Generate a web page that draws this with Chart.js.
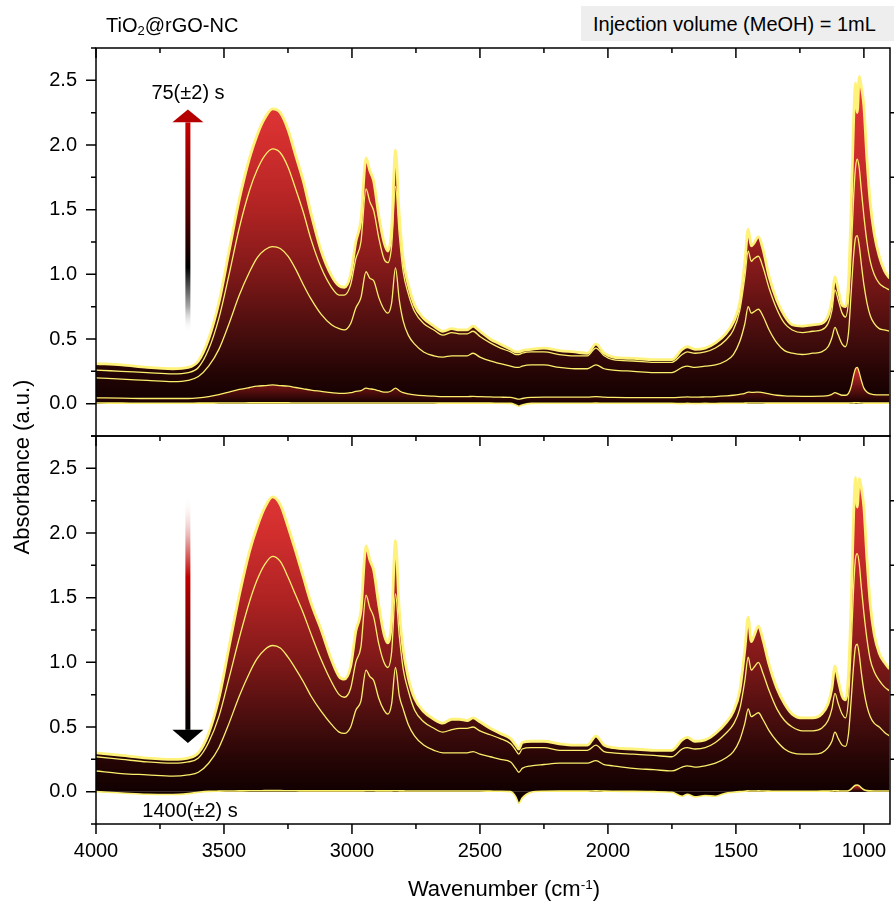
<!DOCTYPE html>
<html>
<head>
<meta charset="utf-8">
<script src="https://cdn.jsdelivr.net/npm/chart.js@4.4.1/dist/chart.umd.min.js"></script>
<style>
  html, body { margin: 0; padding: 0; background: #fff; }
  #wrap { position: relative; width: 894px; height: 905px; overflow: hidden; background: #fff;
          font-family: 'Liberation Sans', Arial, sans-serif; color: #000; }
  canvas { position: absolute; left: 0; }
  .txt { position: absolute; white-space: nowrap; font-size: 20px; line-height: 24px; z-index: 5; }
  sub { font-size: 0.65em; vertical-align: -0.25em; line-height: 0; }
  sup { font-size: 0.62em; vertical-align: 0.55em; line-height: 0; }
</style>
</head>
<body>
<div id="wrap">
  <canvas id="cTop" width="894" height="460" style="top:0px"></canvas>
  <canvas id="cBot" width="894" height="505" style="top:400px"></canvas>
  <div class="txt" style="left:106px; top:13px;">TiO<sub>2</sub>@rGO-NC</div>
  <div class="txt" style="left:581px; top:6px; width:313px; height:35px; line-height:37px; background:#eeeeee; padding-left:12px; box-sizing:border-box;">Injection volume (MeOH) = 1mL</div>
  <div class="txt" style="left:128px; top:80px; width:120px; text-align:center;">75(±2) s</div>
  <div class="txt" style="left:130px; top:798px; width:120px; text-align:center;">1400(±2) s</div>
  <div class="txt" style="left:354px; top:876px; width:300px; text-align:center; font-size:22px; line-height:26px;">Wavenumber (cm<sup>-1</sup>)</div>
  <div class="txt" style="left:-128px; top:454px; width:300px; text-align:center; font-size:22px; line-height:26px; transform:rotate(-90deg); transform-origin:150px 13px;">Absorbance (a.u.)</div>
</div>
<script>
// ---------------- data ----------------
const wavenumber = [4000,3900,3800,3700,3640,3600,3560,3520,3480,3440,
  3400,3370,3340,3310,3280,3250,3220,3190,3160,3120,
  3080,3050,3030,3005,2985,2965,2945,2930,2915,2895,
  2875,2860,2845,2830,2815,2800,2780,2755,2720,2680,
  2645,2610,2580,2550,2527,2500,2460,2420,2380,2360,
  2348,2335,2300,2250,2190,2130,2080,2047,2015,1980,
  1900,1820,1750,1710,1690,1660,1620,1580,1540,1510,
  1485,1465,1452,1440,1430,1412,1395,1370,1340,1310,
  1280,1240,1200,1165,1140,1125,1113,1100,1085,1072,
  1060,1050,1040,1033,1026,1018,1010,1000,988,975,
  960,940,920,900];

// top panel (adsorption, up to 75 s)
const top75s = [0.31,0.30,0.28,0.27,0.28,0.33,0.50,0.78,1.18,1.58,
  1.90,2.08,2.21,2.28,2.25,2.12,1.92,1.72,1.47,1.18,
  0.99,0.91,0.90,1.00,1.25,1.42,1.90,1.80,1.72,1.45,
  1.25,1.18,1.35,1.96,1.45,1.12,0.92,0.76,0.66,0.60,
  0.56,0.58,0.57,0.57,0.60,0.56,0.50,0.46,0.42,0.40,
  0.40,0.41,0.42,0.43,0.41,0.40,0.39,0.46,0.39,0.36,
  0.35,0.34,0.34,0.42,0.44,0.42,0.43,0.47,0.54,0.63,
  0.78,1.10,1.35,1.22,1.24,1.29,1.20,0.98,0.80,0.68,
  0.61,0.60,0.61,0.62,0.68,0.80,0.98,0.88,0.76,0.75,
  0.95,1.50,2.20,2.48,2.25,2.53,2.45,2.30,1.89,1.55,
  1.32,1.14,1.03,0.97];
const topMid2 = [0.26,0.25,0.24,0.23,0.24,0.28,0.42,0.66,1.00,1.36,
  1.65,1.81,1.92,1.97,1.94,1.83,1.66,1.48,1.27,1.05,
  0.90,0.84,0.84,0.92,1.12,1.25,1.66,1.56,1.49,1.28,
  1.12,1.09,1.22,1.68,1.30,1.02,0.85,0.71,0.62,0.57,
  0.53,0.55,0.54,0.54,0.56,0.52,0.47,0.43,0.40,0.38,
  0.38,0.39,0.40,0.40,0.38,0.37,0.37,0.43,0.37,0.34,
  0.33,0.32,0.32,0.38,0.40,0.39,0.40,0.43,0.49,0.57,
  0.72,0.98,1.18,1.10,1.12,1.14,1.06,0.89,0.73,0.62,
  0.57,0.55,0.56,0.57,0.62,0.72,0.88,0.80,0.70,0.67,
  0.80,1.15,1.60,1.82,1.89,1.82,1.65,1.45,1.25,1.10,
  1.00,0.93,0.90,0.88];
const topMid1 = [0.20,0.19,0.18,0.17,0.18,0.21,0.29,0.42,0.62,0.84,
  1.02,1.13,1.19,1.215,1.20,1.14,1.04,0.92,0.81,0.69,
  0.61,0.58,0.57,0.62,0.74,0.82,1.02,0.97,0.95,0.82,
  0.73,0.70,0.78,1.05,0.80,0.64,0.53,0.46,0.40,0.37,
  0.36,0.37,0.37,0.37,0.39,0.36,0.33,0.31,0.29,0.28,
  0.28,0.29,0.30,0.30,0.28,0.27,0.27,0.30,0.27,0.26,
  0.25,0.24,0.24,0.28,0.29,0.28,0.29,0.30,0.33,0.38,
  0.48,0.62,0.75,0.70,0.71,0.73,0.68,0.57,0.47,0.41,
  0.39,0.38,0.39,0.40,0.44,0.51,0.59,0.53,0.46,0.44,
  0.55,0.85,1.15,1.28,1.30,1.22,1.08,0.92,0.78,0.68,
  0.62,0.58,0.57,0.56];
const topEarly = [0.045,0.043,0.040,0.040,0.040,0.045,0.055,0.070,0.090,0.110,
  0.125,0.135,0.140,0.145,0.140,0.135,0.125,0.115,0.105,0.095,
  0.085,0.080,0.080,0.085,0.095,0.100,0.120,0.115,0.110,0.100,
  0.090,0.090,0.100,0.120,0.100,0.085,0.075,0.068,0.062,0.058,
  0.055,0.055,0.055,0.055,0.056,0.054,0.052,0.050,0.048,0.040,
  0.035,0.040,0.048,0.050,0.050,0.050,0.050,0.055,0.050,0.048,
  0.047,0.046,0.046,0.050,0.052,0.050,0.052,0.055,0.060,0.065,
  0.072,0.080,0.090,0.088,0.088,0.090,0.085,0.075,0.065,0.060,
  0.058,0.057,0.057,0.058,0.062,0.072,0.085,0.075,0.065,0.065,
  0.080,0.130,0.220,0.270,0.280,0.240,0.180,0.120,0.090,0.075,
  0.070,0.068,0.068,0.068];
const topStart = [0.005,0.004,0.003,0.003,0.003,0.004,0.004,0.005,0.005,0.005,
  0.006,0.006,0.006,0.006,0.006,0.006,0.005,0.005,0.005,0.005,
  0.005,0.005,0.005,0.005,0.005,0.005,0.005,0.005,0.005,0.005,
  0.005,0.005,0.005,0.005,0.005,0.005,0.005,0.005,0.005,0.005,
  0.004,0.004,0.004,0.004,0.004,0.004,0.004,0.003,0.002,-0.010,
  -0.020,-0.010,0.002,0.003,0.003,0.003,0.003,0.004,0.003,0.003,
  0.003,0.003,0.003,0.000,0.002,0.000,0.002,0.001,0.003,0.003,
  0.003,0.004,0.005,0.005,0.005,0.005,0.005,0.004,0.004,0.004,
  0.004,0.004,0.004,0.004,0.004,0.004,0.004,0.004,0.004,0.004,
  0.004,0.005,0.006,0.007,0.007,0.006,0.005,0.004,0.004,0.004,
  0.004,0.004,0.004,0.004];

// bottom panel (desorption, down to 1400 s)
const botMax = [0.30,0.28,0.26,0.25,0.26,0.30,0.45,0.72,1.12,1.52,
  1.86,2.05,2.20,2.28,2.22,2.05,1.86,1.66,1.46,1.25,
  1.02,0.89,0.87,0.97,1.24,1.40,1.90,1.79,1.71,1.44,
  1.22,1.15,1.32,1.94,1.40,1.10,0.88,0.72,0.62,0.56,
  0.53,0.56,0.56,0.55,0.57,0.54,0.49,0.45,0.41,0.36,
  0.33,0.38,0.39,0.39,0.37,0.36,0.36,0.43,0.36,0.34,
  0.33,0.32,0.32,0.40,0.42,0.39,0.40,0.45,0.53,0.62,
  0.78,1.10,1.35,1.16,1.20,1.28,1.18,0.98,0.80,0.68,
  0.60,0.57,0.57,0.60,0.68,0.80,0.97,0.86,0.74,0.71,
  0.92,1.45,2.15,2.43,2.20,2.42,2.35,2.20,1.80,1.45,
  1.22,1.07,1.00,0.95];
const botMid2 = [0.27,0.25,0.23,0.22,0.23,0.26,0.38,0.58,0.88,1.19,
  1.47,1.64,1.76,1.82,1.78,1.66,1.52,1.38,1.22,1.02,
  0.85,0.75,0.73,0.80,1.00,1.12,1.52,1.42,1.35,1.14,
  1.00,0.96,1.08,1.53,1.20,0.95,0.78,0.63,0.54,0.49,
  0.46,0.48,0.49,0.49,0.50,0.47,0.44,0.41,0.37,0.32,
  0.29,0.33,0.34,0.34,0.32,0.32,0.32,0.36,0.31,0.30,
  0.29,0.28,0.27,0.33,0.34,0.33,0.34,0.38,0.45,0.52,
  0.64,0.86,1.04,0.94,0.96,1.00,0.92,0.78,0.64,0.55,
  0.50,0.47,0.47,0.49,0.55,0.64,0.76,0.68,0.60,0.57,
  0.72,1.10,1.58,1.80,1.84,1.76,1.58,1.38,1.18,1.02,
  0.93,0.86,0.81,0.78];
const botMid1 = [0.16,0.14,0.13,0.12,0.13,0.15,0.22,0.34,0.53,0.74,
  0.92,1.03,1.10,1.13,1.11,1.04,0.95,0.85,0.74,0.62,
  0.52,0.46,0.45,0.50,0.63,0.70,0.94,0.89,0.86,0.72,
  0.63,0.60,0.68,0.96,0.74,0.64,0.52,0.43,0.36,0.32,
  0.30,0.30,0.30,0.30,0.31,0.29,0.27,0.25,0.23,0.18,
  0.15,0.18,0.20,0.21,0.22,0.22,0.22,0.24,0.21,0.20,
  0.18,0.17,0.16,0.19,0.20,0.19,0.20,0.22,0.26,0.31,
  0.40,0.53,0.64,0.58,0.59,0.61,0.56,0.47,0.39,0.33,
  0.30,0.29,0.29,0.30,0.34,0.39,0.46,0.41,0.36,0.35,
  0.45,0.70,0.98,1.12,1.14,1.06,0.92,0.78,0.66,0.58,
  0.53,0.50,0.46,0.43];
const bot1400s = [0.000,-0.010,-0.020,-0.022,-0.015,-0.005,0.002,0.004,0.005,0.006,
  0.007,0.007,0.008,0.008,0.008,0.007,0.007,0.006,0.006,0.006,
  0.006,0.006,0.006,0.006,0.006,0.006,0.007,0.007,0.007,0.006,
  0.006,0.006,0.006,0.007,0.006,0.006,0.005,0.005,0.005,0.005,
  0.005,0.005,0.005,0.005,0.005,0.005,0.004,0.003,0.000,-0.040,
  -0.090,-0.050,-0.005,0.003,0.004,0.004,0.004,0.006,0.004,0.003,
  0.002,0.000,-0.005,-0.035,-0.020,-0.040,-0.030,-0.035,-0.012,-0.005,
  0.000,0.003,0.006,0.005,0.005,0.006,0.005,0.004,0.003,0.003,
  0.003,0.003,0.003,0.004,0.004,0.005,0.007,0.006,0.005,0.005,
  0.008,0.020,0.040,0.050,0.052,0.045,0.030,0.015,0.008,0.006,
  0.005,0.005,0.005,0.005];

const xMajorTicks = [4000, 3500, 3000, 2500, 2000, 1500, 1000];
const yMajorTicks = [0, 0.5, 1.0, 1.5, 2.0, 2.5];
const X_MIN = 898, X_MAX = 4000, Y_MIN = -0.25, Y_MAX = 2.75;

// ---------------- helpers ----------------
Chart.defaults.font.family = "'Liberation Sans', Arial, sans-serif";
Chart.defaults.font.size = 20;
Chart.defaults.color = '#000';

const pts = arr => wavenumber.map((w, i) => ({ x: w, y: arr[i] }));

function absGradient(ctx) {
  const chart = ctx.chart;
  const { chartArea, scales } = chart;
  if (!chartArea) return 'rgba(0,0,0,0)';
  const y0 = scales.y.getPixelForValue(0), y1 = scales.y.getPixelForValue(2.5);
  const g = chart.ctx.createLinearGradient(0, y0, 0, y1);
  g.addColorStop(0.00, '#110000');
  g.addColorStop(0.10, '#260505');
  g.addColorStop(0.20, '#420c0c');
  g.addColorStop(0.40, '#7e1818');
  g.addColorStop(0.60, '#b02323');
  g.addColorStop(0.80, '#d22e2e');
  g.addColorStop(1.00, '#e63a3a');
  return g;
}
function relGradient(maxVal) {
  return function (ctx) {
    const chart = ctx.chart;
    const { chartArea, scales } = chart;
    if (!chartArea) return 'rgba(0,0,0,0)';
    const y0 = scales.y.getPixelForValue(0), y1 = scales.y.getPixelForValue(maxVal);
    const g = chart.ctx.createLinearGradient(0, y0, 0, y1);
    g.addColorStop(0, '#120000');
    g.addColorStop(0.45, '#6a1212');
    g.addColorStop(1, '#d83232');
    return g;
  };
}

const YELLOW = '#fbef6c';
function spectrum(arr, opt) {
  return Object.assign({
    data: pts(arr), borderColor: YELLOW, borderWidth: 1.3, pointRadius: 0, fill: false,
    cubicInterpolationMode: 'monotone', tension: 0.4
  }, opt);
}

const frameTicks = {
  id: 'frameTicks',
  afterDraw(chart, args, o) {
    const { ctx, chartArea: a, scales: { x, y } } = chart;
    ctx.save();
    if (o.arrow) {
      const ar = o.arrow;
      const px = x.getPixelForValue(ar.wn);
      const pTail = y.getPixelForValue(ar.tail), pBase = y.getPixelForValue(ar.base), pTip = y.getPixelForValue(ar.tip);
      const g = ctx.createLinearGradient(0, pTail, 0, pBase);
      ar.stops.forEach(s => g.addColorStop(s[0], s[1]));
      ctx.fillStyle = g;
      ctx.fillRect(px - 2.5, Math.min(pTail, pBase), 5, Math.abs(pBase - pTail));
      ctx.fillStyle = ar.head;
      ctx.beginPath();
      ctx.moveTo(px - 15.5, pBase); ctx.lineTo(px + 15.5, pBase); ctx.lineTo(px, pTip);
      ctx.closePath(); ctx.fill();
    }
    ctx.strokeStyle = '#000';
    ctx.lineWidth = 1.5;
    ctx.beginPath();
    for (let v = X_MAX; v >= X_MIN; v -= 250) {
      const px = x.getPixelForValue(v);
      const len = xMajorTicks.includes(v) ? 10 : 5;
      ctx.moveTo(px, a.top); ctx.lineTo(px, a.top + len);
      if (o.bottomTicks) { ctx.moveTo(px, a.bottom); ctx.lineTo(px, a.bottom + len); }
    }
    for (let k = 0; k <= 12; k++) {
      const v = Y_MIN + k * 0.25;
      const py = y.getPixelForValue(v);
      const major = k % 2 === 1;
      const len = major ? 10 : 5;
      ctx.moveTo(a.left - len, py); ctx.lineTo(a.left, py);
      if (!major && k > 0 && k < 12) { ctx.moveTo(a.right, py); ctx.lineTo(a.right + 10, py); }
    }
    ctx.stroke();
    ctx.strokeRect(a.left, a.top, a.right - a.left, a.bottom - a.top);
    ctx.restore();
  }
};

function makeOptions(isBottom, arrow) {
  return {
    responsive: false, animation: false, devicePixelRatio: 1,
    layout: { padding: isBottom ? { top: 36, left: 0, right: 4, bottom: 0 } : { top: 48, left: 0, right: 4, bottom: 24 } },
    plugins: {
      legend: { display: false }, tooltip: { enabled: false },
      frameTicks: { bottomTicks: isBottom, arrow: arrow }
    },
    scales: {
      x: {
        type: 'linear', reverse: true, min: X_MIN, max: X_MAX,
        display: isBottom,
        grid: { display: false, drawTicks: true, tickLength: 10 },
        border: { display: false },
        afterBuildTicks: s => { s.ticks = xMajorTicks.map(v => ({ value: v })); },
        ticks: { autoSkip: false, maxRotation: 0, minRotation: 0, padding: 5, callback: v => String(v) },
        afterFit: s => { s.height = isBottom ? 81 : 0; }
      },
      y: {
        type: 'linear', min: Y_MIN, max: Y_MAX,
        grid: { display: false, drawTicks: true, tickLength: 10 },
        border: { display: false },
        afterBuildTicks: s => { s.ticks = yMajorTicks.map(v => ({ value: v })); },
        ticks: { autoSkip: false, padding: 9, callback: v => Number(v).toFixed(1) },
        afterFit: s => { s.width = 96; }
      }
    }
  };
}

// ---------------- charts ----------------
new Chart(document.getElementById('cTop'), {
  type: 'line',
  data: { datasets: [
    spectrum(top75s, { order: 5, fill: 'origin', backgroundColor: absGradient, borderWidth: 2.8, borderColor: '#fff27a' }),
    spectrum(topMid2, { order: 4 }),
    spectrum(topMid1, { order: 3 }),
    spectrum(topEarly, { order: 2, fill: 'origin', backgroundColor: relGradient(0.28) }),
    spectrum(topStart, { order: 1, fill: 'origin', backgroundColor: '#1a0000', borderWidth: 1.6 })
  ] },
  options: makeOptions(false, {
    wn: 3641, tail: 0.55, base: 2.175, tip: 2.275, head: '#b40000',
    stops: [[0, 'rgba(255,255,255,0)'], [0.12, '#aaaaaa'], [0.31, '#000000'], [0.57, '#550000'], [1, '#c80000']]
  }),
  plugins: [frameTicks]
});

new Chart(document.getElementById('cBot'), {
  type: 'line',
  data: { datasets: [
    spectrum(botMax, { order: 5, fill: 'origin', backgroundColor: absGradient, borderWidth: 2.8, borderColor: '#fff27a' }),
    spectrum(botMid2, { order: 4 }),
    spectrum(botMid1, { order: 3 }),
    spectrum(bot1400s, { order: 1, fill: 'origin', backgroundColor: relGradient(0.05), borderWidth: 1.6 })
  ] },
  options: makeOptions(true, {
    wn: 3641, tail: 2.295, base: 0.478, tip: 0.377, head: '#000000',
    stops: [[0, 'rgba(255,255,255,0)'], [0.18, '#e8b0b0'], [0.35, '#c00000'], [0.6, '#6a0000'], [0.86, '#1a0000'], [1, '#000000']]
  }),
  plugins: [frameTicks]
});
</script>
</body>
</html>
